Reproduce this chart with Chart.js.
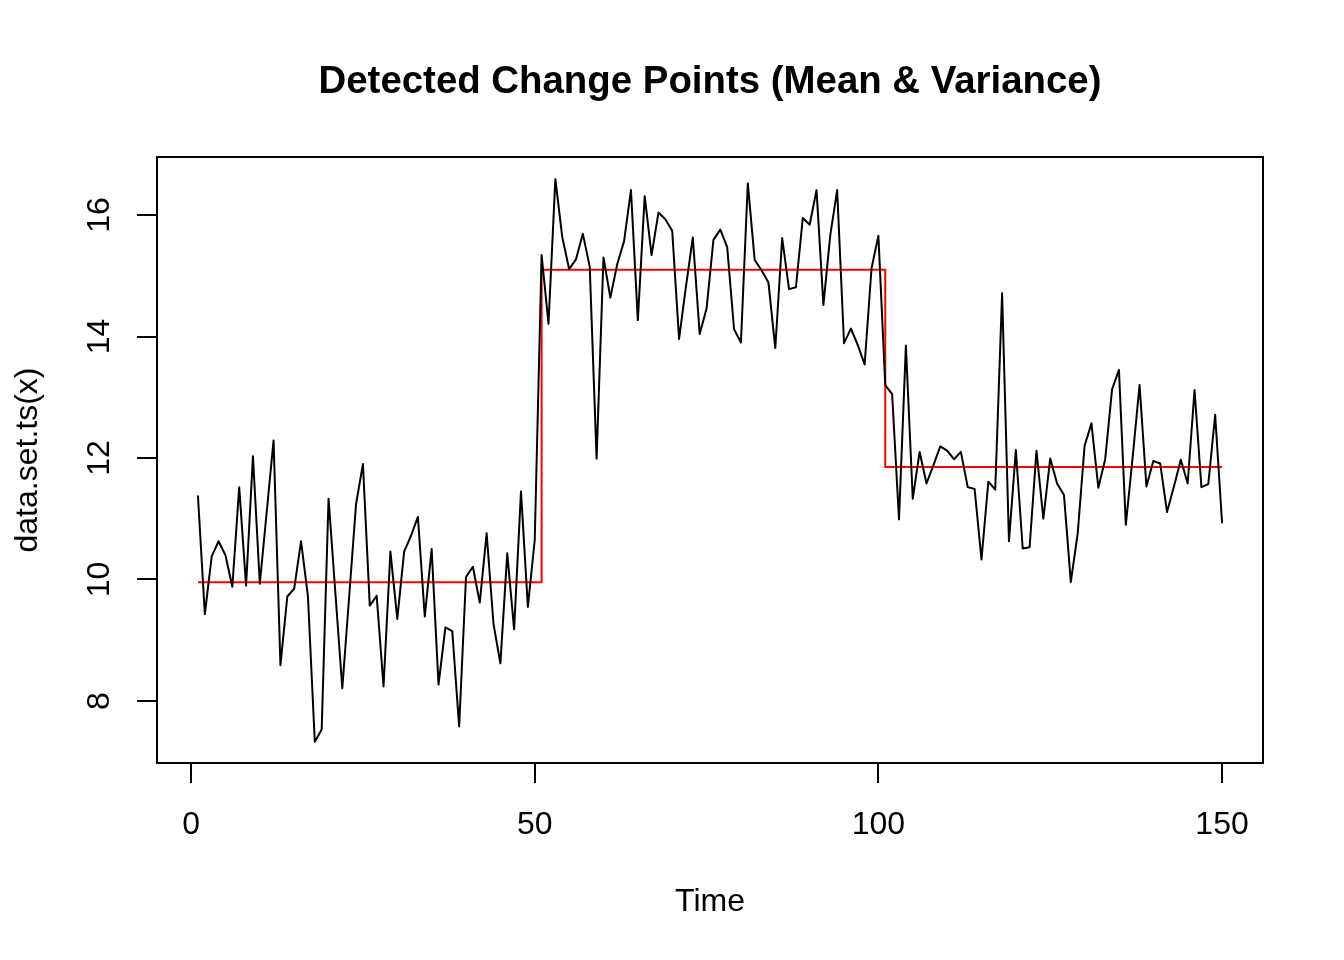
<!DOCTYPE html>
<html>
<head>
<meta charset="utf-8">
<title>Detected Change Points (Mean & Variance)</title>
<script src="https://cdn.jsdelivr.net/npm/chart.js@4.4.0/dist/chart.umd.min.js"></script>
<style>
  html, body { margin: 0; padding: 0; background: #fff; }
  canvas { display: block; }
</style>
</head>
<body>
<canvas id="myChart" width="1344" height="960"></canvas>
<script>
const seriesValues = [
  11.37, 9.43, 10.38, 10.63, 10.40, 9.88, 11.52, 9.90, 12.03, 9.93,
  11.11, 12.29, 8.59, 9.72, 9.85, 10.63, 9.72, 7.33, 7.53, 11.33,
  9.77, 8.21, 9.72, 11.24, 11.90, 9.57, 9.73, 8.24, 10.46, 9.35,
  10.46, 10.72, 11.03, 9.39, 10.50, 8.27, 9.21, 9.15, 7.58, 10.04,
  10.21, 9.62, 10.76, 9.27, 8.62, 10.43, 9.18, 11.45, 9.55, 10.65,
  15.34, 14.21, 16.59, 15.64, 15.11, 15.27, 15.69, 15.15, 11.99, 15.30,
  14.64, 15.19, 15.57, 16.41, 14.27, 16.31, 15.34, 16.04, 15.93, 15.74,
  13.96, 14.82, 15.63, 14.04, 14.46, 15.59, 15.76, 15.47, 14.12, 13.90,
  16.52, 15.26, 15.09, 14.89, 13.81, 15.62, 14.78, 14.81, 15.95, 15.84,
  16.41, 14.52, 15.67, 16.41, 13.89, 14.13, 13.86, 13.54, 15.12, 15.66,
  13.20, 13.05, 10.99, 13.85, 11.33, 12.10, 11.58, 11.88, 12.19, 12.12,
  11.98, 12.10, 11.52, 11.49, 10.33, 11.61, 11.48, 14.71, 10.63, 12.13,
  10.51, 10.53, 12.12, 11.00, 11.99, 11.58, 11.39, 9.96, 10.76, 12.20,
  12.57, 11.51, 11.98, 13.13, 13.45, 10.90, 12.02, 13.20, 11.53, 11.95,
  11.91, 11.11, 11.53, 11.97, 11.58, 13.12, 11.52, 11.57, 12.71, 10.94
];

// segment ends and segment means
const changePoints = [50, 100, 150];
const segmentMeans = [9.955, 15.10, 11.85];

const xTicks = [0, 50, 100, 150];
const yTicks = [8, 10, 12, 14, 16];
const xLimits = [-4.96, 155.96];
const yLimits = [6.979, 16.955];

const timeIndex = seriesValues.map((v, i) => i + 1);

function fittedValue(t) {
  for (let k = 0; k < changePoints.length; k++) {
    if (t <= changePoints[k]) return segmentMeans[k];
  }
  return segmentMeans[segmentMeans.length - 1];
}

const linePoints = timeIndex.map((t, i) => ({ x: t, y: seriesValues[i] }));
const fitPoints = timeIndex.map((t) => ({ x: t, y: fittedValue(t) }));

const FONT = "'Liberation Sans', Arial, Helvetica, sans-serif";

// box round the plot region, like R's box()
const boxPlugin = {
  id: "rbox",
  afterDraw(chart) {
    const { ctx, chartArea } = chart;
    ctx.save();
    ctx.strokeStyle = "#000";
    ctx.lineWidth = 2;
    ctx.strokeRect(chartArea.left, chartArea.top,
      chartArea.right - chartArea.left, chartArea.bottom - chartArea.top);
    ctx.restore();
  },
};

Chart.defaults.color = "#000";
Chart.defaults.font.family = FONT;

const ctx = document.getElementById("myChart").getContext("2d");
const myChart = new Chart(ctx, {
  type: "line",
  data: {
    datasets: [
      {
        label: "data.set.ts(x)",
        data: linePoints,
        borderColor: "#000",
        borderWidth: 2,
        pointRadius: 0,
        tension: 0,
        borderJoinStyle: "round",
        borderCapStyle: "round",
      },
      {
        label: "fit",
        data: fitPoints,
        borderColor: "#ff0000",
        borderWidth: 2,
        pointRadius: 0,
        stepped: "before",
      },
    ],
  },
  options: {
    responsive: false,
    animation: false,
    devicePixelRatio: 1,
    layout: { padding: { top: 59, right: 81, bottom: 0, left: 0 } },
    plugins: {
      legend: { display: false },
      tooltip: { enabled: false },
      title: {
        display: true,
        text: "Detected Change Points (Mean & Variance)",
        fullSize: false,
        color: "#000",
        font: { family: FONT, size: 38.4, weight: "bold" },
        padding: { top: 0, bottom: 51.92 },
      },
    },
    scales: {
      x: {
        type: "linear",
        min: xLimits[0],
        max: xLimits[1],
        afterBuildTicks: (scale) => {
          scale.ticks = xTicks.map((v) => ({ value: v }));
        },
        afterFit: (scale) => {
          scale.height = 197;
        },
        border: { display: false },
        grid: {
          drawOnChartArea: false,
          drawTicks: true,
          tickLength: 20,
          color: "#000",
          lineWidth: 2,
        },
        ticks: {
          autoSkip: false,
          maxRotation: 0,
          padding: 23,
          color: "#000",
          font: { family: FONT, size: 32 },
          callback: (v) => String(v),
        },
        title: {
          display: true,
          text: "Time",
          color: "#000",
          font: { family: FONT, size: 32 },
          padding: { top: 0, bottom: 38.8 },
        },
      },
      y: {
        type: "linear",
        min: yLimits[0],
        max: yLimits[1],
        afterBuildTicks: (scale) => {
          scale.ticks = yTicks.map((v) => ({ value: v }));
        },
        afterFit: (scale) => {
          scale.width = 157;
        },
        border: { display: false },
        grid: {
          drawOnChartArea: false,
          drawTicks: true,
          tickLength: 20,
          color: "#000",
          lineWidth: 2,
        },
        ticks: {
          autoSkip: false,
          minRotation: 90,
          maxRotation: 90,
          crossAlign: "center",
          padding: 19,
          color: "#000",
          font: { family: FONT, size: 32 },
          callback: (v) => String(v),
        },
        title: {
          display: true,
          text: "data.set.ts(x)",
          color: "#000",
          font: { family: FONT, size: 32 },
          padding: { top: 9, bottom: 0 },
        },
      },
    },
  },
  plugins: [boxPlugin],
});
</script>
</body>
</html>
